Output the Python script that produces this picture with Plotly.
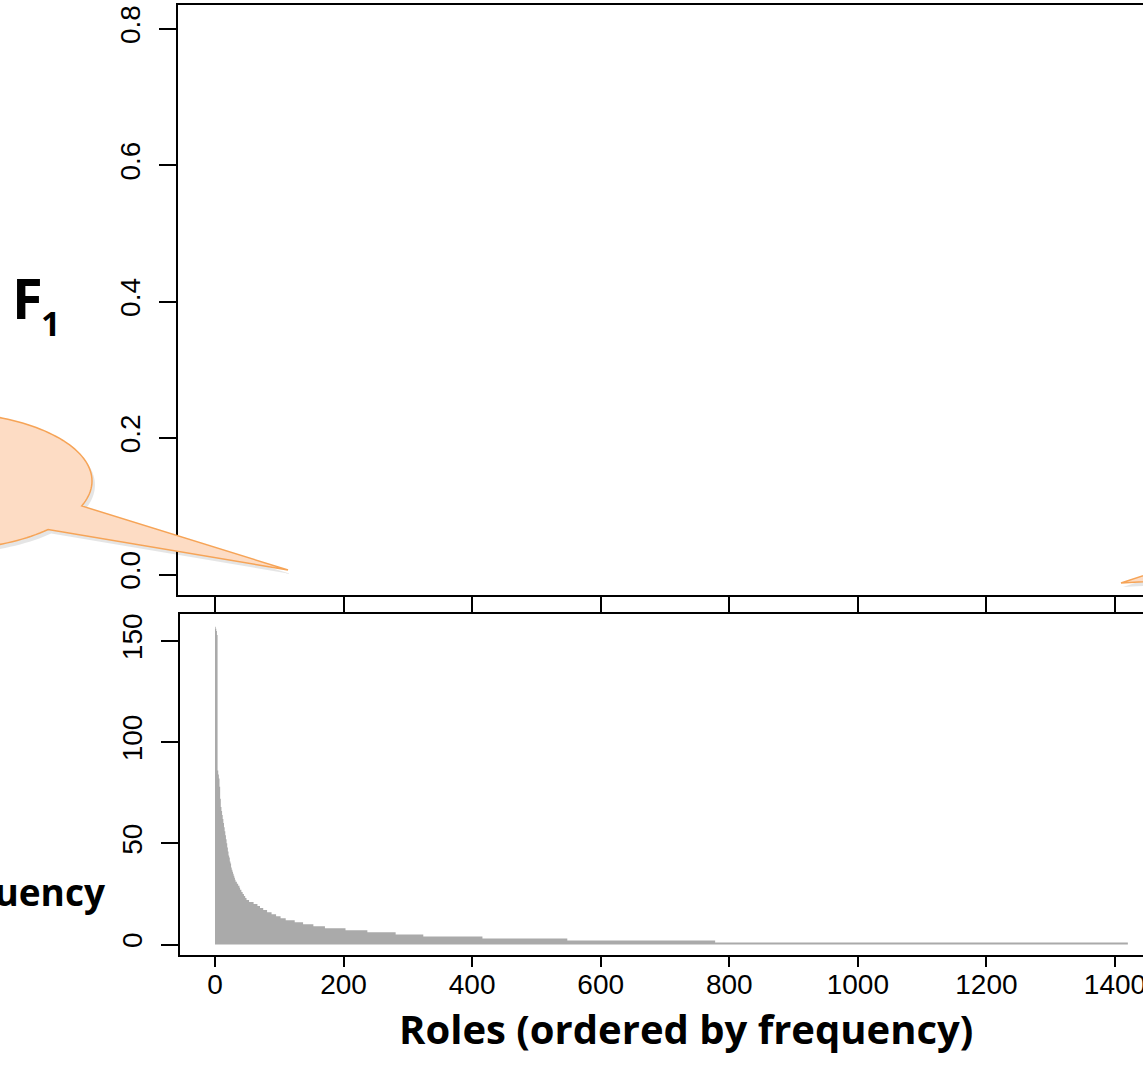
import numpy as np
import plotly.graph_objects as go

W, H = 1143, 1075

# ---------------- data ----------------
# frequencies of the most frequent roles, rank 1..60
head_freq = [157, 156, 155, 153, 86, 84, 82, 78, 72, 68, 66, 64, 62, 60, 58, 56, 54, 52,
             50, 48, 46, 44, 43, 41, 40, 38, 37, 36, 35, 34, 33, 32, 31, 31, 30, 30, 29,
             29, 28, 27, 27, 26, 26, 25, 25, 24, 24, 23, 23, 22, 22, 22, 22, 21, 21, 21,
             21, 21, 21, 21]
# remaining roles as runs: frequency value and the last rank having that value
tail_freq = [20, 19, 18, 17, 16, 15, 14, 13, 12, 11, 10, 9, 8, 7, 6, 5, 4, 3, 2, 1]
tail_last_rank = [66, 70, 75, 81, 88, 95, 102, 110, 124, 137, 153, 171, 203, 237, 281,
                  324, 416, 548, 778, 1420]

x_tick_vals = [0, 200, 400, 600, 800, 1000, 1200, 1400]
x_tick_text = ["0", "200", "400", "600", "800", "1000", "1200", "1400"]
f1_tick_vals = [0.0, 0.2, 0.4, 0.6, 0.8]
f1_tick_text = ["0.0", "0.2", "0.4", "0.6", "0.8"]
freq_tick_vals = [0, 50, 100, 150]
freq_tick_text = ["0", "50", "100", "150"]

counts = np.diff([len(head_freq)] + tail_last_rank)
freqs = np.concatenate([np.array(head_freq), np.repeat(tail_freq, counts)])
N = len(freqs)
x_step = np.arange(0, N + 1)
y_step = np.append(freqs, freqs[-1])

# ---------------- geometry helpers (pixels -> paper) ----------------
def px(x):
    return x / W

def py(y):
    return 1 - y / H

sx = 900 / 1400.0           # px per role rank
x0_px = 215                 # pixel of rank 0
top_left, bot_left = 178, 180
top_range = [(top_left - x0_px) / sx, (W - x0_px) / sx]
bot_range = [(bot_left - x0_px) / sx, (W - x0_px) / sx]

f1_zero, f1_08 = 574.5, 28.8
sy1 = (f1_zero - f1_08) / 0.8
top_box_t, top_box_b = 5, 595
y1_range = [-(top_box_b - f1_zero) / sy1, 0.8 + (f1_08 - top_box_t) / sy1]

fr_zero, fr_150 = 944.5, 641
sy2 = (fr_zero - fr_150) / 150.0
bot_box_t, bot_box_b = 614, 955
y2_range = [-(bot_box_b - fr_zero) / sy2, 150 + (fr_150 - bot_box_t) / sy2]

tick_font = dict(family="Liberation Sans, Arial, sans-serif", size=28, color="black")

fig = go.Figure()
fig.add_trace(go.Scatter(x=[], y=[], xaxis="x", yaxis="y", mode="lines",
                         hoverinfo="skip", showlegend=False))
fig.add_trace(go.Scatter(x=x_step, y=y_step, xaxis="x2", yaxis="y2", mode="lines",
                         line=dict(width=0, shape="hv", color="#aaaaaa"),
                         fill="tozeroy", fillcolor="#aaaaaa",
                         hoverinfo="skip", showlegend=False))

axis_common = dict(showline=True, linecolor="black", linewidth=2, showgrid=False,
                   zeroline=False, ticks="outside", tickwidth=1.5, automargin=False,
                   tickcolor="black", tickfont=tick_font)

fig.update_layout(
    width=W, height=H, margin=dict(l=0, r=0, t=0, b=0, autoexpand=False),
    paper_bgcolor="white", plot_bgcolor="white", showlegend=False,
    xaxis=dict(domain=[px(top_left), 1], range=top_range, anchor="y", mirror=True,
               ticklen=17, tickvals=x_tick_vals, showticklabels=False, **axis_common),
    yaxis=dict(domain=[py(top_box_b), py(top_box_t)], range=y1_range, anchor="x",
               ticklen=17, tickvals=f1_tick_vals, ticktext=f1_tick_text, tickangle=-90,
               ticklabelstandoff=8, **axis_common),
    xaxis2=dict(domain=[px(bot_left), 1], range=bot_range, anchor="y2", mirror=True,
                ticklen=10, tickvals=x_tick_vals, ticktext=x_tick_text,
                ticklabelstandoff=-7, ticklabeloverflow="allow", **axis_common),
    yaxis2=dict(domain=[py(bot_box_b), py(bot_box_t)], range=y2_range, anchor="x2",
                ticklen=17, tickvals=freq_tick_vals, ticktext=freq_tick_text,
                tickangle=-90, ticklabelstandoff=8, **axis_common),
)

label_font = "Open Sans, Lato, sans-serif"
fig.add_annotation(x=px(686), y=py(1028), xref="paper", yref="paper",
                   text="<b>Roles (ordered by frequency)</b>", showarrow=False,
                   xanchor="center", yanchor="middle",
                   font=dict(family=label_font, size=40, color="black"))
fig.add_annotation(x=px(108), y=py(891), xref="paper", yref="paper",
                   text="<b>Frequency</b>", showarrow=False,
                   xanchor="right", yanchor="middle",
                   font=dict(family=label_font, size=37, color="black"))
fig.add_annotation(x=px(10), y=py(297), xref="paper", yref="paper",
                   text="<b>F</b>", showarrow=False, xanchor="left", yanchor="middle",
                   font=dict(family=label_font, size=56, color="black"))
fig.add_annotation(x=px(50), y=py(323), xref="paper", yref="paper",
                   text="<b>1</b>", showarrow=False, xanchor="center", yanchor="middle",
                   font=dict(family=label_font, size=34, color="black"))

# ---------------- callout decorations ----------------
def to_path(points):
    s = "M " + " L ".join(f"{px(x):.5f},{py(y):.5f}" for x, y in points) + " Z"
    return s

cx, cy, rx, ry = -60, 481, 152, 69
a_up = np.arctan2((506 - cy) / ry, (82 - cx) / rx)
a_lo = np.arctan2((529 - cy) / ry, (47 - cx) / rx) - 2 * np.pi
angs = np.linspace(a_up, a_lo, 160)
left_pts = [(cx + rx * np.cos(a), cy + ry * np.sin(a)) for a in angs] + [(288, 570)]
shadow_pts = [(x + 3, y + 4) for x, y in left_pts]

right_pts = [(1121, 583), (1175, 565), (1175, 580)]
right_shadow = [(x + 2, y + 4) for x, y in right_pts]

for pts in (shadow_pts, right_shadow):
    fig.add_shape(type="path", path=to_path(pts), xref="paper", yref="paper",
                  fillcolor="rgba(0,0,0,0.10)", line=dict(width=0), layer="above")
for pts in (left_pts, right_pts):
    fig.add_shape(type="path", path=to_path(pts), xref="paper", yref="paper",
                  fillcolor="#fddcc4", line=dict(color="#f6a457", width=1.5),
                  layer="above")

page_js = (
    "document.documentElement.style.overflow='hidden';"
    "document.body.style.margin='0';document.body.style.padding='0';"
    "document.body.style.overflow='hidden';"
)
fig.write_html("out.html", config={"displayModeBar": False}, post_script=page_js)
